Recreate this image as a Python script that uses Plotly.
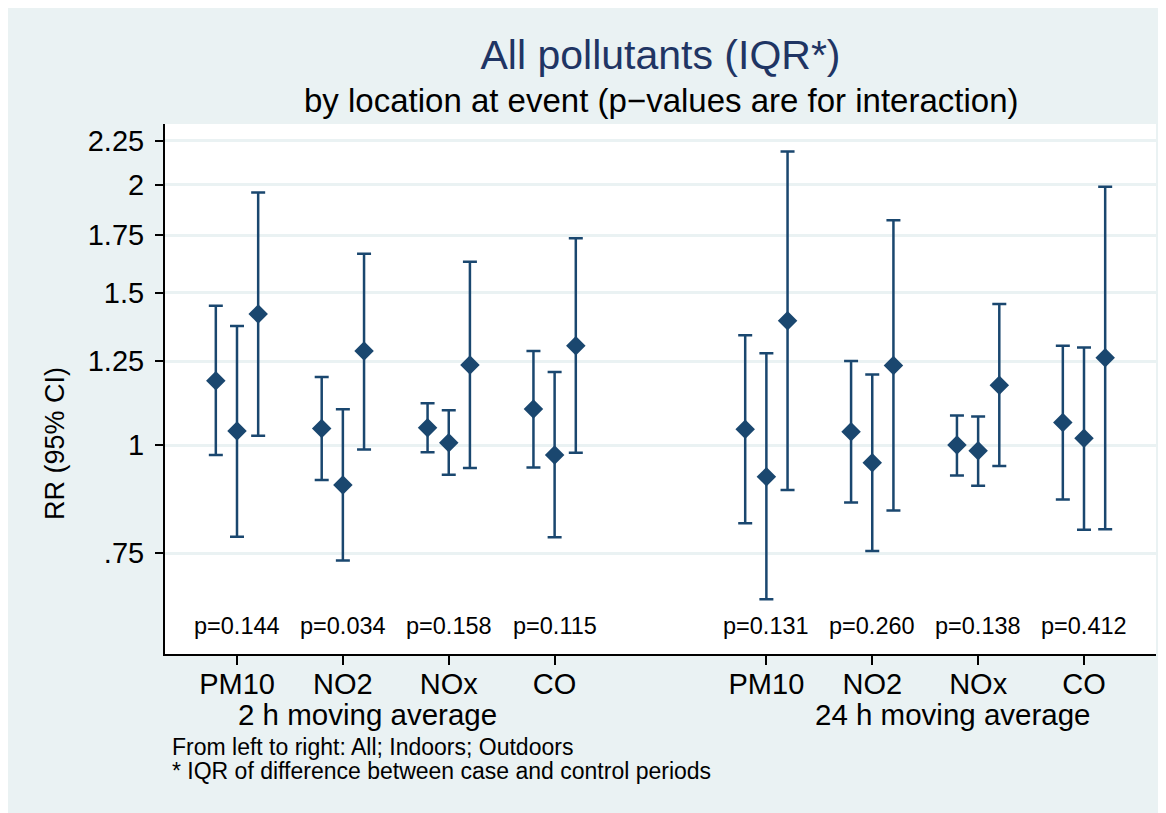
import math
import plotly.graph_objects as go

# ---------------- data ----------------
pollutants = ["PM10", "NO2", "NOx", "CO", "PM10", "NO2", "NOx", "CO"]
tick_positions = [1, 2, 3, 4, 6, 7, 8, 9]
group_labels = ["2 h moving average", "24 h moving average"]
group_label_x = [2.23, 7.76]
p_values = ["0.144", "0.034", "0.158", "0.115", "0.131", "0.260", "0.138", "0.412"]

all_rr = [1.187, 1.045, 1.047, 1.101, 1.043, 1.036, 1.000, 1.062]
all_lo = [0.974, 0.911, 0.981, 0.942, 0.812, 0.858, 0.922, 0.865]
all_hi = [1.450, 1.199, 1.118, 1.285, 1.340, 1.251, 1.082, 1.303]

indoor_rr = [1.038, 0.899, 1.006, 0.974, 0.919, 0.954, 0.985, 1.018]
indoor_lo = [0.783, 0.735, 0.924, 0.782, 0.663, 0.754, 0.897, 0.798]
indoor_hi = [1.373, 1.100, 1.097, 1.215, 1.277, 1.207, 1.079, 1.297]

outdoor_rr = [1.418, 1.285, 1.238, 1.303, 1.393, 1.236, 1.173, 1.262]
outdoor_lo = [1.025, 0.988, 0.941, 0.980, 0.887, 0.840, 0.946, 0.799]
outdoor_hi = [1.961, 1.665, 1.630, 1.735, 2.186, 1.820, 1.456, 1.991]

y_tickvals = [0.75, 1, 1.25, 1.5, 1.75, 2, 2.25]
y_ticktext = [".75", "1", "1.25", "1.5", "1.75", "2", "2.25"]

# ---------------- style ----------------
FONT = "Liberation Sans, Arial, sans-serif"
NAVY = "#1A476F"
BG = "#EAF2F3"
RED = "#C8143C"
W, H = 1166, 813
OFF = 8  # page body margin
L, R, T, B = 157, 18, 116, 167
PW, PH = W - L - R, H - T - B


def px_x(px):
    return (px - OFF - L) / PW


def px_y(py):
    return (H - B - (py - OFF)) / PH


series = [
    (all_rr, all_lo, all_hi, -0.2),
    (indoor_rr, indoor_lo, indoor_hi, 0.0),
    (outdoor_rr, outdoor_lo, outdoor_hi, 0.2),
]

fig = go.Figure()
for rr, lo, hi, off in series:
    fig.add_trace(go.Scatter(
        x=[p + off for p in tick_positions],
        y=rr,
        mode="markers",
        marker=dict(symbol="diamond", size=15, color=NAVY),
        error_y=dict(
            type="data", symmetric=False,
            array=[h - v for h, v in zip(hi, rr)],
            arrayminus=[v - l for v, l in zip(rr, lo)],
            color=NAVY, thickness=2.5, width=7,
        ),
        showlegend=False,
        hoverinfo="skip",
    ))

annotations = []
annotations.append(dict(
    text="by location at event (p\u2212values are for interaction)",
    xref="paper", yref="paper", x=0.5, y=px_y(101), xanchor="center", yanchor="middle",
    showarrow=False, font=dict(family=FONT, size=33, color="black")))
annotations.append(dict(
    text="RR (95% CI)", textangle=-90,
    xref="paper", yref="paper", x=px_x(55), y=px_y(444), xanchor="center", yanchor="middle",
    showarrow=False, font=dict(family=FONT, size=27, color="black")))
for xp, p in zip(tick_positions, p_values):
    annotations.append(dict(
        text="p=" + p, xref="x", yref="paper", x=xp, y=px_y(626),
        xanchor="center", yanchor="middle", showarrow=False,
        font=dict(family=FONT, size=23.5, color="black")))
for gx, g in zip(group_label_x, group_labels):
    annotations.append(dict(
        text=g, xref="x", yref="paper", x=gx, y=px_y(714),
        xanchor="center", yanchor="middle", showarrow=False,
        font=dict(family=FONT, size=29.5, color="black")))
annotations.append(dict(
    text="From left to right: All; Indoors; Outdoors", xref="paper", yref="paper",
    x=px_x(170), y=px_y(747), xanchor="left", yanchor="middle", showarrow=False,
    font=dict(family=FONT, size=23, color="black")))
annotations.append(dict(
    text="* IQR of difference between case and control periods", xref="paper", yref="paper",
    x=px_x(170), y=px_y(771), xanchor="left", yanchor="middle", showarrow=False,
    font=dict(family=FONT, size=23, color="black")))

shapes = [
    dict(type="line", xref="x domain", yref="y", x0=0, x1=1, y0=0, y1=0,
         line=dict(color=RED, width=2.5), layer="below"),
]

fig.update_layout(
    width=W, height=H,
    margin=dict(l=L, r=R, t=T, b=B, pad=0),
    paper_bgcolor=BG, plot_bgcolor="white",
    font=dict(family=FONT, color="black"),
    title=dict(text="All pollutants (IQR*)", x=0.5, xref="paper",
               y=1 - (55 - OFF) / H, yref="container", xanchor="center", yanchor="middle",
               font=dict(family=FONT, size=41, color="#1F3564")),
    annotations=annotations,
    shapes=shapes,
    showlegend=False,
)

fig.update_xaxes(
    range=[0.32, 9.68], tickvals=tick_positions, ticktext=pollutants,
    showgrid=False, zeroline=False,
    showline=True, linecolor="black", linewidth=2,
    ticks="outside", ticklen=9, tickwidth=1.5, tickcolor="black",
    ticklabelstandoff=-6,
    tickfont=dict(family=FONT, size=29, color="black"),
)
fig.update_yaxes(
    type="log",
    range=[math.log10(0.573), math.log10(2.353)],
    tickvals=y_tickvals, ticktext=y_ticktext,
    showgrid=True, gridcolor=BG, gridwidth=2.5, zeroline=False,
    showline=True, linecolor="black", linewidth=2,
    ticks="outside", ticklen=8, tickwidth=1.5, tickcolor="black",
    ticklabelstandoff=5,
    tickfont=dict(family=FONT, size=29, color="black"),
)

fig.write_html("out.html")
